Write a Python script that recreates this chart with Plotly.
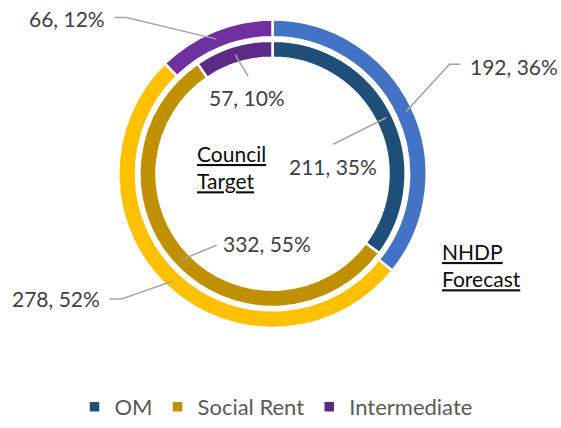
import math
import plotly.graph_objects as go

W, H = 561, 428

# data
categories = ['OM', 'Social Rent', 'Intermediate']
council_target = [211, 332, 57]   # inner ring
nhdp_forecast = [192, 278, 66]    # outer ring

inner_colors = ['#1F4E79', '#BF9000', '#5B2A86']
outer_colors = ['#4472C4', '#FFC000', '#7030A0']

# ring geometry (px)
cx, cy = 272.5, 177.5
outer_r, outer_in = 157.5, 139.5
inner_r, inner_in = 136.0, 118.5

# label placement relative to slice midpoint: text offset, line end offset, elbow
outer_style = [
    dict(dx=107, dy=-46, lx=54, ly=-48, ex=43),
    dict(dx=-117, dy=18, lx=-63, ly=18, ex=-51),
    dict(dx=-149, dy=-21, lx=-102, ly=-22, ex=-90),
]
inner_style = [
    dict(dx=-53, dy=50, lx=-53, ly=27, ex=None),
    dict(dx=86, dy=-17, lx=36, ly=-15, ex=None),
    dict(dx=12, dy=44, lx=13, ly=22, ex=None),
]


def px(x, y):
    return x / W, 1 - y / H


def domain(r):
    x0, _ = px(cx - r, 0)
    x1, _ = px(cx + r, 0)
    _, y0 = px(0, cy + r)
    _, y1 = px(0, cy - r)
    return dict(x=[x0, x1], y=[y0, y1])


fig = go.Figure()
fig.add_trace(go.Pie(
    labels=categories, values=council_target, name='Council Target',
    domain=domain(inner_r), hole=inner_in / inner_r,
    sort=False, direction='clockwise', rotation=0, textinfo='none',
    marker=dict(colors=inner_colors, line=dict(color='white', width=2.5)),
))
fig.add_trace(go.Pie(
    labels=categories, values=nhdp_forecast, name='NHDP Forecast',
    domain=domain(outer_r), hole=outer_in / outer_r,
    sort=False, direction='clockwise', rotation=0, textinfo='none',
    showlegend=False,
    marker=dict(colors=outer_colors, line=dict(color='white', width=2.5)),
))

annotations = []
shapes = []


def add_labels(values, r_mid, styles):
    total = sum(values)
    start = 0.0
    for v, st in zip(values, styles):
        mid = (start + v / 2) / total * 2 * math.pi
        start += v
        ax = cx + r_mid * math.sin(mid)
        ay = cy - r_mid * math.cos(mid)
        pct = int(v / total * 100 + 0.5)
        tx, ty = px(ax + st['dx'], ay + st['dy'])
        annotations.append(dict(
            x=tx, y=ty, xref='paper', yref='paper', showarrow=False,
            text=f'{v}, {pct}%', font=dict(size=21, color='#404040'),
            xanchor='center', yanchor='middle'))
        pts = [(ax, ay)]
        if st['ex'] is not None:
            pts.append((ax + st['ex'], ay + st['ly']))
        pts.append((ax + st['lx'], ay + st['ly']))
        path = 'M ' + ' L '.join(f'{px(x, y)[0]},{px(x, y)[1]}' for x, y in pts)
        shapes.append(dict(type='path', path=path, xref='paper', yref='paper',
                           line=dict(color='#A6A6A6', width=1.5)))


add_labels(nhdp_forecast, (outer_r + outer_in) / 2, outer_style)
add_labels(council_target, (inner_r + inner_in) / 2, inner_style)

x, y = px(195, 171)
annotations.append(dict(
    x=x, y=y, xref='paper', yref='paper', showarrow=False, align='left',
    xanchor='left', yanchor='middle', text='<u>Council</u><br><u>Target</u>',
    font=dict(size=21, color='#0D0D0D')))
x, y = px(440, 271)
annotations.append(dict(
    x=x, y=y, xref='paper', yref='paper', showarrow=False, align='left',
    xanchor='left', yanchor='middle', text='<u>NHDP</u><br><u>Forecast</u>',
    font=dict(size=21, color='#0D0D0D')))

lx, ly = px(276, 416)
fig.update_layout(
    width=W, height=H,
    margin=dict(l=0, r=0, t=0, b=0),
    paper_bgcolor='white', plot_bgcolor='white',
    font=dict(family='Lato, Carlito, sans-serif'),
    annotations=annotations, shapes=shapes,
    legend=dict(
        orientation='h', x=lx, xanchor='center', y=ly, yanchor='middle',
        font=dict(size=22, color='#595959'), itemwidth=30,
    ),
)

# drop the default page margin so the figure sits at the window's corner
fig.write_html('out.html', config={'displayModeBar': False},
               post_script="document.body.style.margin='0';")
